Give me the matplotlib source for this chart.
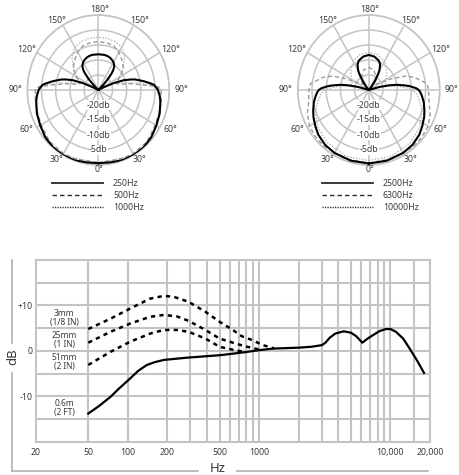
import numpy as np
import matplotlib.pyplot as plt
from matplotlib.lines import Line2D

plt.rcParams['font.family'] = ['Noto Sans', 'DejaVu Sans']

W, H = 460, 475

# ---- polar patterns (half pattern 0..180 deg, mirrored), level in dB ----
ang_250 = [0, 10, 20, 30, 40, 50, 60, 70, 80, 85, 90, 92, 95, 97, 100, 102, 105, 107, 110, 113, 116, 120, 125, 130, 135, 137, 140, 142, 145, 150, 155, 160, 165, 170, 180]
db_250 = [-0.6, -0.5, -0.1, 0, -0.1, -0.6, -1.4, -2.0, -2.8, -3.3, -4.0, -4.5, -5.3, -6.6, -8.5, -9.8, -11.5, -13.0, -15.5, -19, -23, -25, -25, -25, -22.5, -20, -17.5, -16.3, -15.2, -14.3, -13.8, -13.4, -13.2, -13.1, -13.1]

ang_500 = [0, 20, 30, 45, 60, 70, 80, 90, 93, 96, 100, 105, 110, 115, 120, 130, 140, 150, 160, 170, 180]
db_500 = [-0.8, -0.6, -0.5, -0.7, -1.8, -2.3, -2.5, -2.8, -4, -9, -13, -17.5, -18.5, -17.5, -15.8, -13.5, -12, -10.5, -9.3, -9, -8.9]

ang_1000 = [0, 30, 45, 60, 75, 90, 95, 100, 105, 110, 115, 120, 128, 140, 150, 160, 170, 180]
db_1000 = [-0.5, 0, 0, -1.2, -2.2, -3.2, -6, -11, -16, -18, -17.5, -16.5, -14.1, -10.5, -8.5, -7.8, -7.5, -7.4]

ang_2500 = [0, 15, 30, 40, 50, 57, 65, 71, 78, 84, 88, 90, 92, 95, 97, 100, 102, 105, 110, 135, 140, 143, 145, 148, 150, 155, 160, 170, 180]
db_2500 = [-0.5, -0.6, -0.8, -1.1, -1.8, -2.6, -3.5, -4.3, -5.2, -6.2, -6.9, -7.4, -8.3, -10.5, -12.3, -15, -17.5, -21, -25, -25, -23.5, -22, -20.9, -18.8, -17.5, -15.6, -14.6, -13.7, -13.3]

ang_6300 = [0, 20, 40, 50, 60, 70, 80, 90, 96, 100, 105, 110, 115, 120, 130, 150, 165, 180]
db_6300 = [-0.7, -0.6, -0.5, -0.6, -0.9, -2.0, -3.5, -3.9, -4.4, -6.5, -8.5, -11.5, -16, -20, -22, -20, -18, -17.5]

ang_10000 = [0, 20, 40, 55, 65, 75, 85, 90, 95, 100, 110, 120, 135, 150, 165, 180]
db_10000 = [-1.5, -1.5, -2.2, -3.2, -4.5, -6, -8, -9.5, -13, -17, -19, -18, -16, -14, -12.8, -12.5]

ring_db = [-20, -15, -10, -5]
ring_labels = ['-20db', '-15db', '-10db', '-5db']
angle_ticks = [0, 30, 60, 90, 120, 150, 180]

# ---- frequency response (Hz, dB) ----
f_far = [50, 60, 74, 85, 104, 120, 140, 160, 188, 240, 282, 350, 506, 600, 800, 1000, 1280, 1600, 2000, 2500,
         3000, 3200, 3450, 3800, 4400, 5000, 5500, 6100, 6700, 7400, 8200, 9200, 10000, 11000, 12500, 14000, 16000, 18000]
db_far = [-13.8, -12.2, -10.1, -8.4, -6.1, -4.4, -3.1, -2.5, -2.0, -1.7, -1.5, -1.3, -0.95, -0.7, -0.25, 0.15, 0.5, 0.6, 0.7, 0.9,
          1.25, 1.8, 2.9, 3.8, 4.3, 4.0, 3.2, 1.8, 2.7, 3.5, 4.3, 4.8, 4.8, 4.2, 2.7, 0.5, -2.2, -4.85]

f_3mm = [50, 74, 104, 148, 188, 224, 290, 390, 500, 630, 740, 880, 1070, 1300]
db_3mm = [4.8, 7.1, 9.3, 11.5, 12.1, 11.9, 10.8, 8.6, 6.4, 4.6, 3.2, 2.4, 1.25, 0.55]

f_25mm = [50, 74, 104, 148, 188, 236, 290, 390, 500, 680, 810, 1000]
db_25mm = [1.8, 4.2, 6.0, 7.5, 7.9, 7.6, 6.6, 4.6, 2.7, 1.5, 0.9, 0.3]

f_51mm = [50, 74, 104, 148, 188, 236, 290, 390, 500, 650, 800]
db_51mm = [-3.1, -0.2, 2.0, 3.8, 4.6, 4.6, 4.2, 2.7, 0.9, 0.15, -0.3]

freq_grid = [50, 100, 200, 300, 400, 500, 600, 700, 800, 900, 1000,
             2000, 3000, 4000, 5000, 6000, 7000, 8000, 9000, 10000, 15000]
freq_ticks = [20, 50, 100, 200, 500, 1000, 10000, 20000]
freq_tick_labels = ['20', '50', '100', '200', '500', '1000', '10,000', '20,000']
db_ticks = [10, 0, -10]
db_tick_labels = ['+10', '0', '-10']
dist_labels = ['3mm\n(1/8 IN)', '25mm\n(1 IN)', '51mm\n(2 IN)', '0.6m\n(2 FT)']
dist_label_db = [7.2, 2.4, -2.5, -12.6]

GRID = '#c4c4c4'
TXT = '#3a3a3a'


def fx(px):
    return px / W


def fy(py):
    return 1 - py / H


def rect(l, t, r, b):
    return [l / W, 1 - b / H, (r - l) / W, (b - t) / H]


def mirror(ang, vals):
    a = np.array(ang, dtype=float)
    v = np.array(vals, dtype=float)
    full_a = np.concatenate([a, 360 - a[::-1]])
    full_v = np.concatenate([v, v[::-1]])
    return np.radians(full_a), full_v


def draw_polar(fig, box, series, legend_x, labels):
    ax = fig.add_axes(rect(*box), projection='polar')
    ax.set_aspect('auto')
    ax.set_theta_zero_location('S')
    ax.set_rlim(-25, 0)
    ax.set_rticks(ring_db + [0])
    ax.set_yticklabels([])
    ax.set_thetagrids(range(0, 360, 30), labels=[''] * 12)
    ax.grid(color=GRID, lw=1.1)
    ax.spines['polar'].set_color(GRID)
    ax.spines['polar'].set_linewidth(1.2)
    ax.tick_params(pad=0)

    for (ang, vals), style in series:
        t, v = mirror(ang, vals)
        ax.plot(t, v, **style, zorder=3)

    for d, lab in zip(ring_db, ring_labels):
        ax.text(0, d, lab, ha='center', va='center', fontsize=6.3, color=TXT, zorder=4,
                bbox=dict(boxstyle='square,pad=0.05', fc='white', ec='none'))

    bw = box[2] - box[0]
    bh = box[3] - box[1]
    for a in angle_ticks:
        s = np.sin(np.radians(a))
        c = np.cos(np.radians(a))
        sides = [1, -1] if 0 < a < 180 else [1]
        for sd in sides:
            x = 0.5 + (sd * 83 * s + (1 if a in (0, 180) else 0)) / bw
            y = 0.5 - 80 * c / bh
            ax.text(x, y, f'{a}\u00b0', transform=ax.transAxes, ha='center', va='center',
                    fontsize=6.3, color=TXT)

    # legend drawn by hand
    styles = [dict(ls='-', lw=1.3), dict(ls=(0, (3.2, 2.2)), lw=1.0), dict(ls=(0, (0.9, 0.9)), lw=1.0)]
    for i, (lab, st) in enumerate(zip(labels, styles)):
        yy = 183 + 12 * i
        fig.add_artist(Line2D([fx(legend_x), fx(legend_x + 51)], [fy(yy), fy(yy)],
                              transform=fig.transFigure, color='#2a2a2a', **st))
        fig.text(fx(legend_x + 61), fy(yy), lab, ha='left', va='center', fontsize=6.3, color=TXT)
    return ax


fig = plt.figure(figsize=(W / 100, H / 100), dpi=100)

solid = dict(color='black', lw=1.5)
dashed = dict(color='#9a9a9a', lw=1.0, ls=(0, (3, 2)))
dotted = dict(color='#b4b4b4', lw=1.0, ls=(0, (1, 1.2)))

draw_polar(fig, (27.3, 15, 169.3, 165),
           [((ang_1000, db_1000), dotted), ((ang_500, db_500), dashed), ((ang_250, db_250), solid)],
           52, ['250Hz', '500Hz', '1000Hz'])
draw_polar(fig, (297.8, 15, 439.8, 165),
           [((ang_10000, db_10000), dotted), ((ang_6300, db_6300), dashed), ((ang_2500, db_2500), solid)],
           322, ['2500Hz', '6300Hz', '10000Hz'])

# ---- frequency response ----
ax = fig.add_axes(rect(36, 260, 430, 441.7))
ax.set_xscale('log')
ax.set_xlim(20, 20000)
ax.set_ylim(-20, 20)
for f in freq_grid:
    ax.axvline(f, color=GRID, lw=1.5, zorder=1)
for d in range(-15, 20, 5):
    ax.axhline(d, color=GRID, lw=1.5, zorder=1)
for sp in ax.spines.values():
    sp.set_color(GRID)
    sp.set_linewidth(1.5)
ax.minorticks_off()
ax.set_xticks(freq_ticks)
ax.set_xticklabels(freq_tick_labels)
ax.set_yticks(db_ticks)
ax.set_yticklabels(db_tick_labels)
ax.tick_params(length=0, labelsize=6.3, labelcolor=TXT)
ax.tick_params(axis='x', pad=4.5)
ax.tick_params(axis='y', pad=2.5)

near_style = dict(color='black', lw=1.8, ls=(0, (1.7, 1.7)), zorder=3)
ax.plot(f_3mm, db_3mm, **near_style)
ax.plot(f_25mm, db_25mm, **near_style)
ax.plot(f_51mm, db_51mm, **near_style)
ax.plot(f_far, db_far, color='black', lw=1.6, zorder=4, solid_joinstyle='round')

for lab, d in zip(dist_labels, dist_label_db):
    ax.text(32.7, d, lab, ha='center', va='center', fontsize=6.0, color=TXT, linespacing=1.0)

# outer L-shaped axis with "dB" and "Hz"
line_kw = dict(transform=fig.transFigure, color='#a8a8a8', lw=1.1)
fig.add_artist(Line2D([fx(12), fx(12)], [fy(260), fy(343)], **line_kw))
fig.add_artist(Line2D([fx(12), fx(12)], [fy(373), fy(471)], **line_kw))
fig.add_artist(Line2D([fx(12), fx(198)], [fy(471), fy(471)], **line_kw))
fig.add_artist(Line2D([fx(237), fx(428)], [fy(471), fy(471)], **line_kw))
fig.text(fx(12.5), fy(357), 'dB', rotation=90, ha='center', va='center', fontsize=9.5, color=TXT)
fig.text(fx(217.5), fy(468.5), 'Hz', ha='center', va='center', fontsize=9.5, color=TXT)

fig.savefig('out.png', dpi=100)
